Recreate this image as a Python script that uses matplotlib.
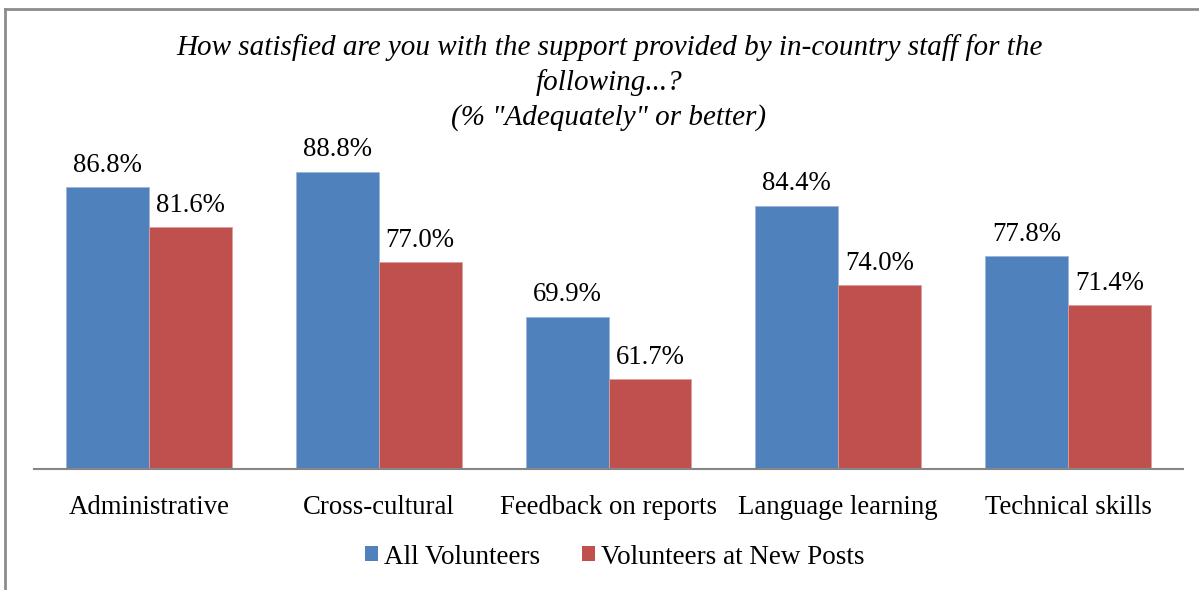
import numpy as np
import matplotlib
matplotlib.use('Agg')
import matplotlib.pyplot as plt
from matplotlib.lines import Line2D
from matplotlib.patches import Patch

plt.rcParams['font.family'] = ['Liberation Serif', 'DejaVu Serif']

# Survey results, % answering "Adequately" or better
categories = ['Administrative', 'Cross-cultural', 'Feedback on reports',
              'Language learning', 'Technical skills']
all_volunteers = [86.8, 88.8, 69.9, 84.4, 77.8]
new_posts = [81.6, 77.0, 61.7, 74.0, 71.4]
series_names = ['All Volunteers', 'Volunteers at New Posts']

blue = '#4F81BD'
red = '#C0504D'

W, H = 1199, 590
fig = plt.figure(figsize=(W / 100, H / 100), dpi=100)

# outer chart frame (runs off the right and bottom edges)
frame_col = '#8c8c8c'
fig.add_artist(Line2D([5 / W, 5 / W], [0, 1 - 9 / H], transform=fig.transFigure,
                      color=frame_col, lw=2))
fig.add_artist(Line2D([5 / W, 1], [1 - 9 / H, 1 - 9 / H], transform=fig.transFigure,
                      color=frame_col, lw=2))

ax_left, ax_right = 34, 1183
ax_top, ax_bottom = 86.5, 469
ax = fig.add_axes([ax_left / W, 1 - ax_bottom / H,
                   (ax_right - ax_left) / W, (ax_bottom - ax_top) / H])

x = np.arange(len(categories))
bw = 0.361
b1 = ax.bar(x - bw / 2, all_volunteers, bw, bottom=0, color=blue,
            edgecolor='#9db6d8', linewidth=0.6, label=series_names[0])
b2 = ax.bar(x + bw / 2, new_posts, bw, bottom=0, color=red,
            edgecolor='#dba09e', linewidth=0.6, label=series_names[1])

for bars, vals in ((b1, all_volunteers), (b2, new_posts)):
    for rect, v in zip(bars, vals):
        ax.annotate(f'{v:.1f}%', (rect.get_x() + rect.get_width() / 2, v),
                    xytext=(0, 7), textcoords='offset points',
                    ha='center', va='bottom', fontsize=19.3)

ax.set_xlim(-0.5, len(categories) - 0.5)
ax.set_ylim(50, 100)
ax.set_yticks([])
ax.set_xticks(x)
ax.set_xticklabels(categories, fontsize=19.3)
ax.tick_params(axis='x', length=0, pad=18.5)
for side in ('top', 'right', 'left'):
    ax.spines[side].set_visible(False)
ax.spines['bottom'].set_color('#868686')
ax.spines['bottom'].set_linewidth(1.5)

fig.text(609 / W, 1 - 82.5 / H,
         'How satisfied are you with the support provided by in-country staff for the\n'
         'following...?\n'
         '(% "Adequately" or better)',
         ha='center', va='center', style='italic', fontsize=21, linespacing=1.39)

handles = [Patch(facecolor=blue), Patch(facecolor=red)]
fig.legend(handles, series_names, loc='center', bbox_to_anchor=(615 / W, 1 - 557 / H),
           ncol=2, frameon=False, fontsize=19.5, handlelength=0.48, handleheight=0.48,
           handletextpad=0.22, columnspacing=1.55)

fig.savefig('out.png', dpi=100, facecolor='white')
